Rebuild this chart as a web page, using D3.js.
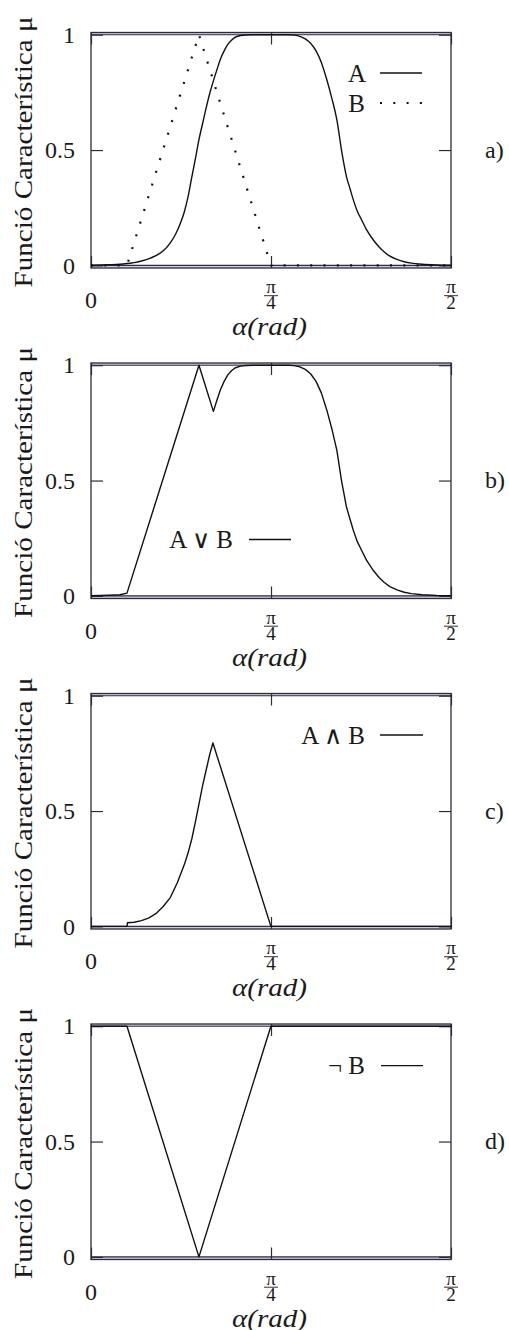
<!DOCTYPE html>
<html>
<head>
<meta charset="utf-8">
<script src="https://cdn.jsdelivr.net/npm/d3@7"></script>
<style>
  html, body { margin: 0; padding: 0; background: #fff; }
  svg { display: block; }
</style>
</head>
<body>
<svg id="chart" width="509" height="1330"></svg>
<script>
// Membership functions, [alpha (rad), mu]
const seriesA = [
  [0.000, 0.001], [0.079, 0.003], [0.126, 0.005], [0.157, 0.008], [0.188, 0.012],
  [0.220, 0.019], [0.251, 0.028], [0.283, 0.042], [0.314, 0.062], [0.346, 0.098],
  [0.369, 0.135], [0.393, 0.190], [0.408, 0.235], [0.424, 0.300], [0.440, 0.384],
  [0.456, 0.465], [0.471, 0.545], [0.487, 0.615], [0.503, 0.685], [0.518, 0.745],
  [0.534, 0.800], [0.550, 0.850], [0.565, 0.895], [0.581, 0.930], [0.597, 0.958],
  [0.613, 0.976], [0.628, 0.988], [0.652, 0.996], [0.675, 0.999], [0.707, 1.000],
  [0.864, 1.000], [0.887, 0.998], [0.911, 0.993], [0.935, 0.982], [0.958, 0.963],
  [0.982, 0.930], [1.005, 0.880], [1.029, 0.805], [1.052, 0.720], [1.073, 0.630],
  [1.093, 0.500], [1.115, 0.384], [1.131, 0.330], [1.145, 0.283], [1.162, 0.235],
  [1.181, 0.197], [1.202, 0.155], [1.232, 0.110], [1.257, 0.080], [1.280, 0.058],
  [1.304, 0.040], [1.335, 0.026], [1.367, 0.016], [1.398, 0.010], [1.445, 0.005],
  [1.508, 0.002], [1.571, 0.001]
];
const seriesB = [[0.000, 0], [0.157, 0], [0.471, 1], [0.785, 0], [1.571, 0]];
const seriesOr = [
  [0.000, 0.001], [0.079, 0.003], [0.126, 0.005], [0.157, 0.012], [0.471, 1.000],
  [0.534, 0.800], [0.550, 0.850], [0.565, 0.895], [0.581, 0.930], [0.597, 0.958],
  [0.613, 0.976], [0.628, 0.988], [0.652, 0.996], [0.675, 0.999], [0.707, 1.000],
  [0.864, 1.000], [0.887, 0.998], [0.911, 0.993], [0.935, 0.982], [0.958, 0.963],
  [0.982, 0.930], [1.005, 0.880], [1.029, 0.805], [1.052, 0.720], [1.073, 0.630],
  [1.093, 0.500], [1.115, 0.384], [1.131, 0.330], [1.145, 0.283], [1.162, 0.235],
  [1.181, 0.197], [1.202, 0.155], [1.232, 0.110], [1.257, 0.080], [1.280, 0.058],
  [1.304, 0.040], [1.335, 0.026], [1.367, 0.016], [1.398, 0.010], [1.445, 0.005],
  [1.508, 0.002], [1.571, 0.001]
];
const seriesAnd = [
  [0.000, 0], [0.157, 0], [0.159, 0.016], [0.188, 0.018], [0.220, 0.025],
  [0.251, 0.036], [0.283, 0.055], [0.314, 0.085], [0.346, 0.125], [0.377, 0.190],
  [0.408, 0.270], [0.424, 0.320], [0.440, 0.380], [0.456, 0.455], [0.471, 0.530],
  [0.487, 0.610], [0.503, 0.680], [0.518, 0.745], [0.532, 0.795], [0.785, 0],
  [1.571, 0]
];
const seriesNotB = [[0.000, 1], [0.157, 1], [0.471, 0], [0.785, 1], [1.571, 1]];

const xTickValues = [0, Math.PI / 4, Math.PI / 2];
const xTickLabels = [["0"], ["π", "4"], ["π", "2"]];
const yTickValues = [0, 0.5, 1];
const yTickLabels = ["0", "0.5", "1"];
const panelLabels = ["a)", "b)", "c)", "d)"];
const yTitle = "Funció Característica μ";
const xTitle = "α(rad)";

const ink = "#1a1a1a";
const frameInk = "#2c2c3c";
const serifFace = '"Liberation Serif"';

const svg = d3.select("#chart");
const left = 91, right = 451, plotH = 235.5;
const tops = [32.5, 363, 693.5, 1024];
const tick = 12;

const x = d3.scaleLinear().domain([0, Math.PI / 2]).range([left, right]);

function label(g, size) {
  return g.append("text").style("font-family", serifFace)
    .attr("font-size", size).attr("fill", ink);
}

function drawPanel(i, curves, legend) {
  const top = tops[i], bottom = top + plotH;
  const y = d3.scaleLinear().domain([0, 1]).range([bottom - 2.6, top + 2.2]);
  const g = svg.append("g");

  // thin bands between the frame and the mu = 0 / mu = 1 lines
  g.append("rect").attr("x", left).attr("y", top).attr("width", right - left)
    .attr("height", y(1) - top).attr("fill", "#cdcde2");
  g.append("rect").attr("x", left).attr("y", y(0)).attr("width", right - left)
    .attr("height", bottom - y(0)).attr("fill", "#cdcde2");
  g.selectAll("line.ref").data([0, 1]).join("line").attr("class", "ref")
    .attr("x1", left).attr("x2", right).attr("y1", d => y(d)).attr("y2", d => y(d))
    .attr("stroke", frameInk).attr("stroke-width", 1.1);

  // frame
  g.append("rect").attr("x", left).attr("y", top).attr("width", right - left)
    .attr("height", plotH).attr("fill", "none").attr("stroke", frameInk).attr("stroke-width", 1.3);

  // axes with inward ticks
  const styleAxis = sel => {
    sel.select(".domain").remove();
    sel.selectAll(".tick line").attr("stroke", frameInk).attr("stroke-width", 1.2);
  };
  g.append("g").attr("transform", `translate(${left},0)`)
    .call(d3.axisLeft(y).tickValues(yTickValues).tickSize(-tick).tickPadding(16)
      .tickFormat((d, k) => yTickLabels[k]))
    .call(styleAxis)
    .attr("font-family", null)
    .call(s => s.selectAll(".tick text").style("font-family", serifFace)
      .attr("font-size", 24).attr("fill", ink));
  g.append("g").attr("transform", `translate(${right},0)`)
    .call(d3.axisRight(y).tickValues(yTickValues).tickSize(-tick).tickFormat(() => ""))
    .call(styleAxis);
  g.append("g").attr("transform", `translate(0,${bottom})`)
    .call(d3.axisBottom(x).tickValues(xTickValues).tickSize(-tick).tickFormat(() => ""))
    .call(styleAxis);
  g.append("g").attr("transform", `translate(0,${top})`)
    .call(d3.axisTop(x).tickValues(xTickValues).tickSize(-tick).tickFormat(() => ""))
    .call(styleAxis);

  // x tick labels (fractions of pi)
  xTickValues.forEach((v, k) => {
    const lab = xTickLabels[k], cx = x(v);
    if (lab.length === 1) {
      label(g, 24).attr("x", cx).attr("y", bottom + 40).attr("text-anchor", "middle").text(lab[0]);
    } else {
      const t = label(g, 19).attr("x", cx).attr("y", bottom + 25).attr("text-anchor", "middle");
      t.append("tspan").attr("x", cx).text(lab[0]);
      t.append("tspan").attr("x", cx).attr("dy", 16).text(lab[1]);
      g.append("line").attr("x1", cx - 7).attr("x2", cx + 7)
        .attr("y1", bottom + 27.7).attr("y2", bottom + 27.7)
        .attr("stroke", ink).attr("stroke-width", 0.9);
    }
  });

  // titles
  label(g, 26).attr("transform", `translate(32,${top + 119.5}) rotate(-90)`)
    .attr("text-anchor", "middle")
    .attr("textLength", 271).attr("lengthAdjust", "spacingAndGlyphs").text(yTitle);
  label(g, 25).attr("x", 269.5).attr("y", top + 302.5).attr("text-anchor", "middle")
    .attr("font-style", "italic")
    .attr("textLength", 75).attr("lengthAdjust", "spacingAndGlyphs").text(xTitle);
  label(g, 24).attr("x", 485).attr("y", y(0.5)).attr("dy", "0.32em").text(panelLabels[i]);

  // curves
  curves.forEach(c => {
    const line = d3.line().x(d => x(d[0])).y(d => y(d[1]))
      .curve(c.smooth ? d3.curveMonotoneX : d3.curveLinear);
    g.append("path").datum(c.data).attr("d", line).attr("fill", "none")
      .attr("stroke", "#111").attr("stroke-width", c.dotted ? 2.2 : 1.4)
      .attr("stroke-dasharray", c.dotted ? "2 11.3" : null)
      .attr("stroke-linejoin", "round");
  });

  // legend
  legend.forEach(l => {
    const ly = top + l.dy;
    label(g, 25).attr("x", l.tx).attr("y", ly).attr("dy", "0.34em")
      .attr("text-anchor", "end").text(l.label);
    g.append("line").attr("x1", l.x1).attr("x2", l.x2).attr("y1", ly).attr("y2", ly)
      .attr("stroke", "#111").attr("stroke-width", l.dotted ? 2.2 : 1.3)
      .attr("stroke-dasharray", l.dotted ? "2 11.3" : null);
  });
}

drawPanel(0, [{ data: seriesA, smooth: true }, { data: seriesB, dotted: true }], [
  { label: "A", tx: 366, dy: 40.5, x1: 380, x2: 422 },
  { label: "B", tx: 365, dy: 70.5, x1: 380, x2: 424, dotted: true }
]);
drawPanel(1, [{ data: seriesOr }], [
  { label: "A ∨ B", tx: 233, dy: 176.5, x1: 249, x2: 291 }
]);
drawPanel(2, [{ data: seriesAnd }], [
  { label: "A ∧ B", tx: 365, dy: 41.5, x1: 380, x2: 423 }
]);
drawPanel(3, [{ data: seriesNotB }], [
  { label: "¬ B", tx: 365, dy: 41.7, x1: 381, x2: 423 }
]);
</script>
</body>
</html>
